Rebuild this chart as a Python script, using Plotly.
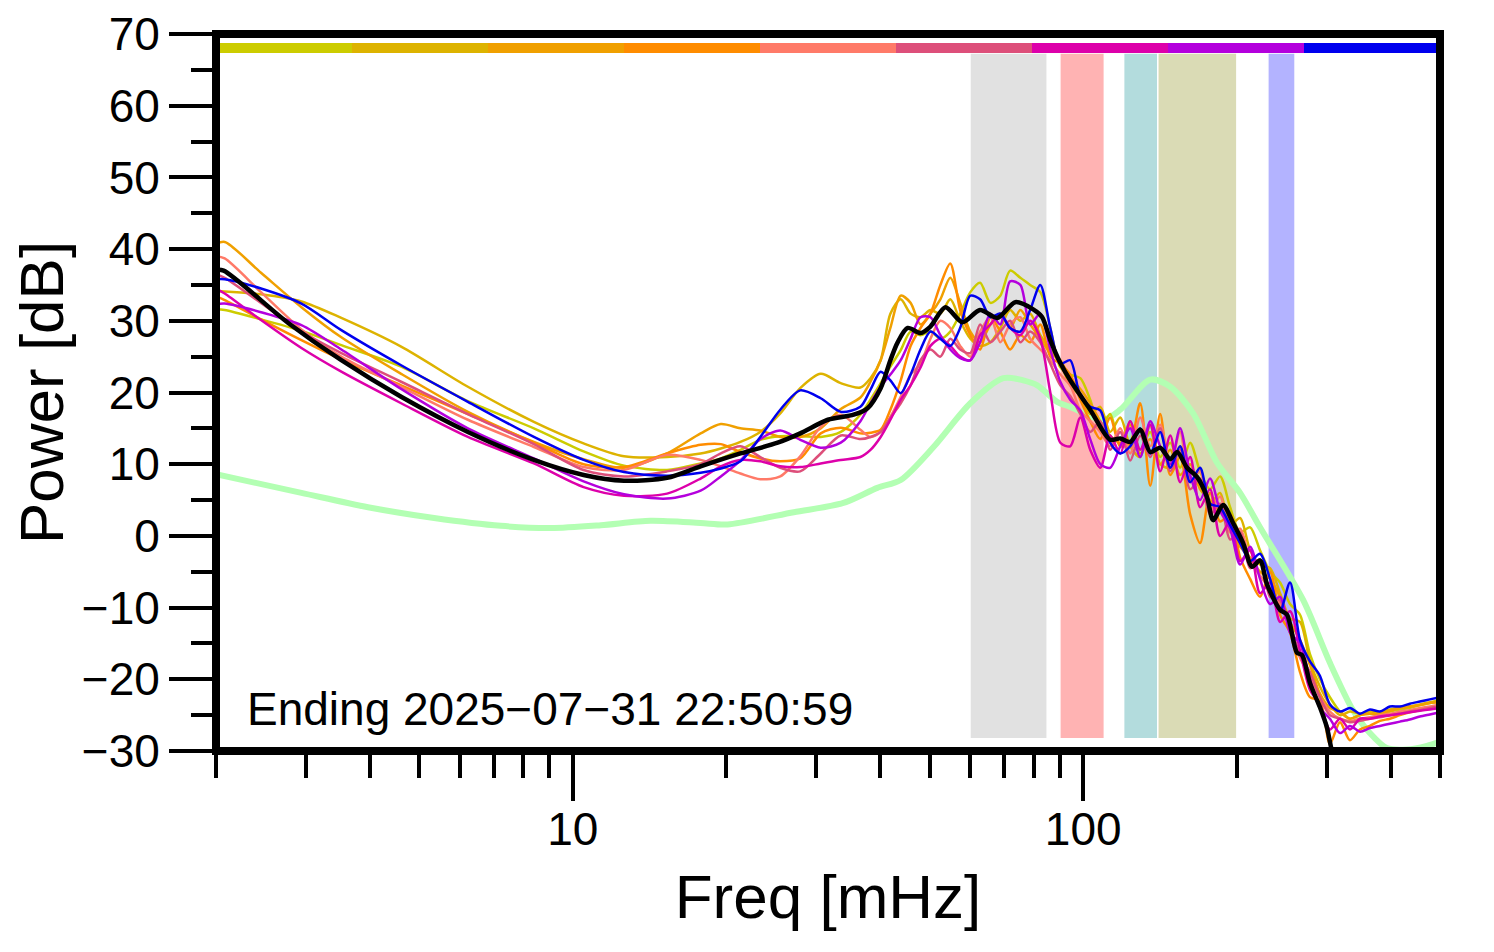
import plotly.graph_objects as go

# ---------------- data ----------------
GRID_FREQ = [2.0, 2.08, 2.45, 2.94, 3.52, 4.61, 6.23, 8.39, 10.5, 12.6, 15.3, 17.8, 19.5, 21.3,
             23.3, 25.5, 27.9, 30.6, 33.5, 36.6, 38.3, 40.1, 41.9, 43.9,
             45.9, 48.0, 50.2, 52.5, 54.9, 57.4, 60.1, 62.8, 65.8, 68.8,
             71.9, 75.3, 78.7, 82.4, 86.2, 90.2, 94.3, 98.7, 103.2, 108.0,
             112.9, 118.2, 123.6, 129.3, 135.3, 141.5, 148.1, 154.8, 162.0, 169.4,
             177.2, 185.4, 194.0, 202.9, 212.3, 222.0, 232.3, 243.0, 254.2, 265.9,
             278.1, 290.9, 304.3, 318.4, 333.1, 348.4, 364.4, 381.3, 398.9, 417.3,
             436.4, 456.6, 477.6, 499.7]

SERIES_COLORS = ["#CCCC00", "#DDB300", "#F0A000", "#FF8C00", "#FF7A68",
                 "#DD4F7A", "#DD00AA", "#B400DD", "#0000EE"]

P1_YELLOWGREEN = [31.6, 31.5, 30.2, 28.6, 26.6, 23.6, 18.8, 15.0, 11.8, 9.8, 9.2, 10.1, 10.8, 12.0,
                  13.4, 13.9, 13.9, 13.8, 14.5, 16.9, 19.0, 21.3, 23.6, 25.9,
                  28.5, 28.0, 28.5, 27.5, 28.5, 31.0, 34.0, 35.3, 32.5, 33.5,
                  37.0, 36.0, 35.0, 34.0, 29.0, 23.5, 22.5, 22.0, 19.0, 15.0,
                  17.0, 12.5, 16.0, 12.0, 14.5, 11.0, 13.0, 9.5, 13.0, 9.0,
                  6.5, 8.3, 4.0, 0.5, 1.2, -2.0, -5.0, -6.5, -9.5, -11.0,
                  -16.5, -20.0, -22.5, -24.5, -25.5, -25.0, -24.8, -25.0, -24.5, -24.2,
                  -24.0, -23.6, -23.3, -23.0]
P2_GOLD = [34.1, 34.1, 33.7, 32.7, 30.4, 26.4, 20.8, 15.9, 12.9, 11.1, 11.0, 11.5, 12.2, 13.1,
           14.5, 17.1, 20.6, 22.6, 21.3, 20.7, 22.0, 24.5, 31.0, 33.0,
           31.0, 30.5, 31.5, 31.0, 33.0, 30.0, 27.5, 26.5, 27.0, 29.0,
           31.5, 30.0, 31.0, 28.0, 26.0, 24.0, 21.0, 19.5, 17.0, 18.0,
           14.5, 16.5, 12.5, 11.0, 15.5, 10.0, 9.5, 12.5, 8.0, 7.0,
           4.5, 6.0, 1.5, 2.5, -2.0, -4.0, -4.5, -8.0, -11.5, -12.0,
           -17.5, -21.0, -23.5, -25.0, -24.5, -24.8, -24.5, -24.6, -24.2, -24.0,
           -23.8, -23.5, -23.2, -23.0]
P3_ORANGE = [40.7, 41.0, 36.7, 31.9, 27.7, 22.6, 17.3, 13.1, 10.7, 9.5, 11.5, 14.3, 15.6, 15.0,
             14.7, 13.8, 13.8, 15.0, 17.7, 19.3, 21.5, 24.5, 29.0, 33.5,
             32.5, 29.5, 31.0, 33.0, 36.0, 32.5, 28.5, 27.0, 29.5, 31.0,
             29.0, 31.5, 29.5, 27.5, 25.5, 24.5, 22.0, 20.5, 18.5, 16.0,
             14.0, 13.0, 15.5, 11.5, 13.5, 10.0, 12.0, 8.5, 10.0, 6.5,
             5.0, 3.5, 2.0, -1.5, -3.0, -5.0, -6.0, -8.5, -12.0, -14.5,
             -18.0, -22.0, -24.0, -24.5, -25.5, -25.0, -24.8, -24.8, -24.4, -24.0,
             -23.8, -23.6, -23.3, -23.2]
P4_DARKORANGE = [33.4, 32.9, 30.2, 27.3, 24.6, 21.0, 17.0, 13.0, 10.0, 9.6, 11.5, 12.7, 12.8, 11.7,
                 10.8, 10.4, 10.8, 14.3, 15.1, 14.3, 14.4, 14.8, 17.6, 21.7,
                 26.5, 29.0, 31.0, 35.0, 38.0, 31.5, 28.0, 26.0, 30.5, 28.5,
                 26.0, 28.0, 27.0, 29.5, 25.0, 24.0, 22.5, 19.0, 16.0, 13.5,
                 16.5, 12.5, 13.0, 18.5, 7.0, 17.0, 8.5, 11.0, 3.0, -1.0,
                 6.0, 2.0, 3.0, -3.0, -6.0, -8.5, -5.0, -11.0, -13.5, -19.0,
                 -22.5, -23.0, -29.0, -26.0, -28.5, -27.0, -26.5, -25.8, -25.5, -25.0,
                 -24.6, -24.3, -24.0, -23.8]
P5_SALMON = [39.0, 38.7, 34.0, 28.8, 25.0, 20.8, 16.2, 12.4, 9.6, 9.2, 11.3, 10.6, 9.7, 8.7,
             7.9, 8.3, 11.1, 15.2, 16.9, 14.8, 13.8, 14.5, 16.6, 19.4,
             22.5, 24.0, 27.5, 30.0, 29.0, 26.5, 25.0, 28.5, 30.5, 27.0,
             29.5, 30.5, 27.5, 26.0, 24.5, 22.5, 21.0, 17.5, 16.0, 14.5,
             12.5, 15.0, 11.5, 16.5, 12.5, 15.5, 10.0, 14.5, 7.5, 9.0,
             3.5, 5.5, 0.5, 1.0, -3.5, -5.5, -7.5, -9.5, -13.0, -17.0,
             -19.5, -22.5, -24.5, -25.5, -25.8, -25.5, -25.3, -25.0, -24.8, -24.5,
             -24.3, -24.0, -23.8, -23.5]
P6_ROSE = [36.5, 36.0, 32.5, 28.5, 25.5, 21.5, 17.0, 12.8, 9.2, 8.3, 9.0, 10.0, 11.5, 12.5,
           11.0, 9.5, 9.0, 11.5, 14.0, 13.5, 13.8, 14.5, 16.5, 18.5,
           21.0, 24.5, 26.0, 25.0, 27.5, 26.0, 25.5, 29.5, 27.0, 28.5,
           30.0, 27.0, 28.5, 27.0, 24.0, 21.0, 19.5, 17.0, 14.5, 16.0,
           12.0, 14.5, 10.5, 14.0, 11.0, 15.0, 9.0, 12.0, 6.5, 8.0,
           3.0, 4.5, -0.5, 0.5, -4.5, -3.5, -8.5, -9.0, -12.5, -16.5,
           -19.0, -22.5, -25.0, -25.5, -26.0, -25.8, -25.5, -25.3, -25.0, -24.8,
           -24.5, -24.3, -24.0, -23.8]
P7_MAGENTA = [34.5, 33.8, 30.1, 26.2, 22.9, 18.5, 13.8, 10.1, 6.8, 5.6, 5.9, 8.0, 9.7, 10.6,
              10.4, 9.7, 9.6, 10.1, 10.6, 11.0, 12.0, 13.8, 16.2, 19.0,
              21.0, 23.5, 26.5, 27.5, 26.5, 25.0, 24.5, 28.0, 29.5, 31.0,
              29.0, 28.0, 30.0, 27.5, 20.0, 13.0, 12.5, 16.5, 12.0, 9.5,
              14.0, 11.5, 16.0, 12.0, 15.5, 9.0, 14.0, 7.5, 11.0, 4.0,
              6.5, 0.0, 2.0, -3.5, -2.0, -8.0, -6.5, -12.0, -10.5, -16.0,
              -21.5, -23.5, -27.0, -25.5, -27.0, -25.5, -25.5, -25.2, -25.0, -24.8,
              -24.6, -24.4, -24.2, -24.0]
P8_PURPLE = [32.3, 32.4, 31.2, 29.4, 26.0, 20.5, 15.0, 10.8, 7.6, 5.8, 5.2, 6.3, 8.3, 10.5,
             13.5, 14.7, 13.4, 12.3, 13.0, 16.0, 18.5, 20.8, 22.5, 24.5,
             27.5, 30.5, 30.5, 28.0, 26.0, 24.8, 24.5, 27.0, 31.0, 29.5,
             35.5, 35.0, 29.5, 31.0, 26.0, 21.5, 19.0, 17.5, 13.5, 10.0,
             9.5, 12.5, 15.0, 11.0, 16.0, 12.5, 10.0, 15.0, 8.5, 5.0,
             8.0, 3.5, 1.0, -4.0, -1.5, -6.0, -9.5, -8.5, -13.5, -15.0,
             -20.0, -24.0, -25.5, -27.5, -26.5, -27.3, -26.8, -26.5, -26.2, -25.9,
             -25.6, -25.2, -24.9, -24.6]
P9_BLUE = [35.8, 35.8, 34.5, 32.4, 28.7, 23.8, 18.7, 13.8, 10.6, 8.9, 8.4, 8.8, 9.4, 10.4,
           13.8, 17.6, 20.3, 19.2, 17.3, 18.0, 20.4, 22.9, 21.7, 19.9,
           22.5, 26.0, 28.5, 27.5, 26.5, 29.0, 33.5, 33.0, 30.5, 31.0,
           29.0, 28.5, 31.5, 35.0, 29.0, 24.0, 24.5, 19.5, 18.0, 17.5,
           13.0, 11.5, 12.5, 15.0, 11.5, 14.5, 9.5, 12.5, 7.5, 9.5,
           4.5, 4.0, 1.5, -1.0, -3.5, -2.5, -6.0, -10.5, -6.5, -14.5,
           -17.5, -19.5, -23.5, -24.5, -24.0, -24.8, -24.2, -24.5, -23.8, -23.8,
           -23.4, -23.1, -22.8, -22.5]

SERIES_VALUES = [P1_YELLOWGREEN, P2_GOLD, P3_ORANGE, P4_DARKORANGE, P5_SALMON,
                 P6_ROSE, P7_MAGENTA, P8_PURPLE, P9_BLUE]

MEAN_FREQ = [2.0, 2.07, 2.77, 3.52, 4.61, 6.23, 8.39, 10.5, 12.6, 15.3, 17.8, 21.3, 25.2, 27.9,
             31.6, 35.5, 37.8, 40.1, 41.9, 43.3, 45.3, 48.0, 50.2, 53.7, 58.0, 62.8, 67.9,
             73.6, 79.8, 83.1, 86.2, 90.2, 94.3, 103.2, 112.9, 118.2, 123.6, 129.3, 135.3,
             141.5, 148.1, 152.8, 159.8, 167.2, 174.8, 179.7, 187.9, 196.6, 205.7, 214.2,
             222.0, 229.2, 243.0, 250.8, 262.3, 268.3, 278.1, 290.9, 300.2, 308.5, 325.6]
MEAN_DB = [37.1, 37.0, 29.7, 24.5, 19.4, 14.5, 10.6, 8.5, 7.7, 8.1, 9.7, 11.5, 13.0, 14.3,
           16.2, 16.9, 17.8, 20.6, 24.5, 27.0, 29.0, 28.3, 29.2, 31.9, 29.8, 31.5, 30.4,
           32.6, 31.6, 30.5, 27.3, 24.1, 21.7, 17.6, 13.4, 13.6, 13.1, 14.8, 11.7,
           12.3, 10.7, 11.7, 9.5, 8.2, 5.4, 2.2, 4.3, 1.8, -1.0, -4.3,
           -3.4, -6.8, -10.3, -11.0, -16.3, -16.6, -20.5, -23.9, -26.7, -30.5, -34.0]

MODEL_FREQ = [2.0, 2.94, 3.97, 5.35, 7.23, 9.06, 11.35, 14.2, 17.8, 20.1, 27.1, 33.9, 39.5,
              43.9, 50.9, 60.1, 69.7, 76.3, 81.3, 88.9, 94.3, 109.4, 118.2, 135.3, 148.1,
              164.2, 182.9, 202.9, 222.0, 269.5, 304.3, 337.6, 364.4, 393.4, 430.5, 471.2, 499.7]
MODEL_DB = [8.6, 6.0, 4.0, 2.5, 1.4, 1.1, 1.5, 2.1, 1.8, 1.6, 3.3, 4.6, 6.7,
            7.8, 12.4, 18.5, 22.0, 21.7, 21.0, 18.7, 18.0, 16.2, 17.6, 21.8, 20.8,
            17.1, 10.2, 6.0, 1.2, -8.9, -17.7, -24.3, -27.5, -29.6, -29.8, -29.3, -28.7]

BAND_LO = [60, 90, 120, 140, 230]
BAND_HI = [85, 110, 140, 200, 260]
BAND_COLORS = ["#E1E1E1", "#FFB3B3", "#B3DCDD", "#DADBB5", "#B3B3FF"]

X_MAJOR = [10, 100]
X_MINOR = [2, 3, 4, 5, 6, 7, 8, 9, 20, 30, 40, 50, 60, 70, 80, 90, 200, 300, 400, 500]
Y_MAJOR = [-30, -20, -10, 0, 10, 20, 30, 40, 50, 60, 70]
Y_MINOR = [-25, -15, -5, 5, 15, 25, 35, 45, 55, 65]

STAMP = "Ending 2025\u221207\u221231 22:50:59"
X_TITLE = "Freq [mHz]"
Y_TITLE = "Power [dB]"

FONT = "Liberation Sans, Arial, Helvetica, sans-serif"

# ---------------- figure ----------------
fig = go.Figure()

fig.add_trace(go.Scatter(x=MODEL_FREQ, y=MODEL_DB, mode="lines",
                         line=dict(color="#B3FFB3", width=6, shape="spline", smoothing=0.8),
                         hoverinfo="skip", showlegend=False))

for vals, col in zip(SERIES_VALUES, SERIES_COLORS):
    fig.add_trace(go.Scatter(x=GRID_FREQ, y=vals, mode="lines",
                             line=dict(color=col, width=2.5, shape="spline", smoothing=0.8),
                             hoverinfo="skip", showlegend=False))

fig.add_trace(go.Scatter(x=MEAN_FREQ, y=MEAN_DB, mode="lines",
                         line=dict(color="black", width=4.5, shape="spline", smoothing=0.8),
                         hoverinfo="skip", showlegend=False))

shapes = []
for lo, hi, col in zip(BAND_LO, BAND_HI, BAND_COLORS):
    shapes.append(dict(type="rect", xref="x", yref="y", x0=lo, x1=hi, y0=-28.3, y1=67.35,
                       fillcolor=col, line=dict(color="white", width=1.5), layer="below"))
n = len(SERIES_COLORS)
for i, col in enumerate(SERIES_COLORS):
    shapes.append(dict(type="rect", xref="paper", yref="y", x0=i / n, x1=(i + 1) / n,
                       y0=67.35, y1=68.74, fillcolor=col, line=dict(width=0), layer="above"))
shapes.append(dict(type="rect", xref="paper", yref="paper", x0=0, x1=1, y0=0, y1=1,
                   line=dict(color="black", width=8), layer="above"))

# the page body has an 8px default margin, so the figure is 8px smaller each way
fig.update_layout(
    width=1486, height=944,
    margin=dict(l=208, r=54, t=26, b=201, autoexpand=False),
    paper_bgcolor="white", plot_bgcolor="white",
    font=dict(family=FONT, color="black", size=46),
    showlegend=False,
    hovermode=False,
    shapes=shapes,
    annotations=[
        dict(xref="paper", yref="paper", x=0.024, y=0.058, xanchor="left",
             yanchor="middle", text=STAMP, showarrow=False,
             font=dict(family=FONT, size=46, color="black")),
        dict(xref="paper", yref="paper", x=-0.1425, y=0.5, xanchor="center",
             yanchor="middle", text=Y_TITLE, textangle=-90, showarrow=False,
             font=dict(family=FONT, size=62, color="black")),
    ],
)

fig.update_xaxes(
    type="log", range=[0.30103, 2.69897], automargin=False,
    tickmode="array", tickvals=X_MAJOR, ticktext=[str(v) for v in X_MAJOR],
    ticks="outside", ticklen=49, tickwidth=4, tickcolor="black",
    ticklabelstandoff=-11,
    tickfont=dict(family=FONT, size=46, color="black"),
    minor=dict(tickmode="array", tickvals=X_MINOR, ticks="outside", ticklen=26,
               tickwidth=4, tickcolor="black", showgrid=False),
    showgrid=False, zeroline=False, showline=False,
    title=dict(text=X_TITLE, font=dict(family=FONT, size=62, color="black"), standoff=20),
)
fig.update_yaxes(
    range=[-30, 70], automargin=False,
    tickmode="array", tickvals=Y_MAJOR,
    ticks="outside", ticklen=46, tickwidth=4, tickcolor="black",
    ticklabelstandoff=0,
    tickfont=dict(family=FONT, size=46, color="black"),
    minor=dict(tickmode="array", tickvals=Y_MINOR, ticks="outside", ticklen=24,
               tickwidth=4, tickcolor="black", showgrid=False),
    showgrid=False, zeroline=False, showline=False,
)

fig.write_html("out.html")
